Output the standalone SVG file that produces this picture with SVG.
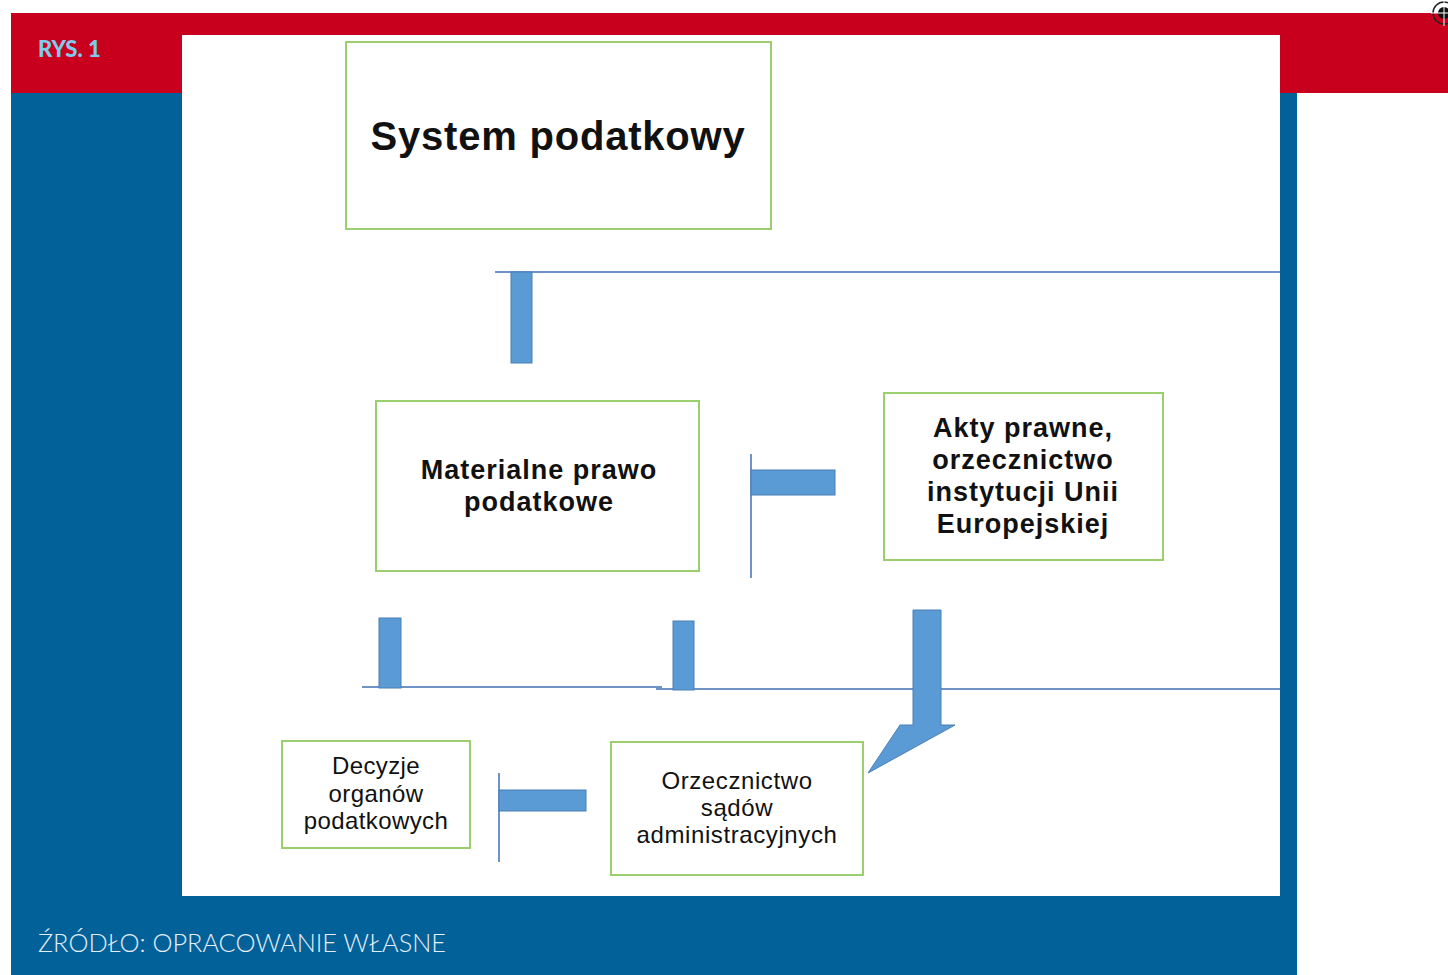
<svg xmlns="http://www.w3.org/2000/svg" width="1448" height="975" viewBox="0 0 1448 975">
<style>
.box{fill:#fff;stroke:#9bcf6e;stroke-width:2}
.bar{fill:#5b9bd5;stroke:#4a7fb5;stroke-width:1}
.ln{stroke:#6f93c6;stroke-width:2;fill:none}
.tb{font-family:"Liberation Sans",Arial,sans-serif;font-weight:bold;fill:#111;text-anchor:middle}
.tr{font-family:"Liberation Sans",Arial,sans-serif;fill:#111;text-anchor:middle}
</style>
<rect x="0" y="0" width="1448" height="975" fill="#fff"/>
<rect x="11" y="13" width="1437" height="80" fill="#c8001e"/>
<rect x="11" y="93" width="1286" height="882" fill="#036199"/>
<rect x="182" y="35" width="1098" height="861" fill="#fff"/>
<g id="regmark">
<circle cx="1444" cy="13" r="11" fill="none" stroke="#222" stroke-width="1.5"/>
<circle cx="1444" cy="13" r="6" fill="#111"/>
<line x1="1431" y1="13" x2="1448" y2="13" stroke="#fff" stroke-width="1"/>
<line x1="1444" y1="0" x2="1444" y2="26" stroke="#fff" stroke-width="1"/>
</g>
<text x="38" y="57" font-family="Lato,'Liberation Sans',sans-serif" font-weight="900" font-size="22" fill="#7ecbeb">RYS. 1</text>
<text x="38" y="952" font-family="Lato,'Liberation Sans',sans-serif" font-weight="300" font-size="25.3" fill="#e6eef5">ŹRÓDŁO: OPRACOWANIE WŁASNE</text>

<g id="connectors">
<line class="ln" x1="495" y1="272" x2="1280" y2="272"/>
<rect class="bar" x="511" y="272" width="21" height="91"/>
<line class="ln" x1="751" y1="454" x2="751" y2="578"/>
<rect class="bar" x="751" y="470" width="84" height="25"/>
<line class="ln" x1="362" y1="687" x2="662" y2="687"/>
<line class="ln" x1="656" y1="689" x2="1280" y2="689" stroke-width="3"/>
<rect class="bar" x="379" y="618" width="22" height="70"/>
<rect class="bar" x="673" y="621" width="21" height="69"/>
<polygon class="bar" points="913,610 941,610 941,725 955,725 868,773 900,725 913,725"/>
<line class="ln" x1="499" y1="773" x2="499" y2="862"/>
<rect class="bar" x="499" y="790" width="87" height="21"/>
</g>

<g id="system">
<rect class="box" x="346" y="42" width="425" height="187"/>
<text class="tb" x="558" y="150" font-size="40" letter-spacing="0.8">System podatkowy</text>
</g>
<g id="materialne">
<rect class="box" x="376" y="401" width="323" height="170"/>
<text class="tb" x="539" y="479" font-size="27" letter-spacing="1">Materialne  prawo</text>
<text class="tb" x="539" y="511" font-size="27" letter-spacing="1">podatkowe</text>
</g>
<g id="akty">
<rect class="box" x="884" y="393" width="279" height="167"/>
<text class="tb" x="1023" y="437" font-size="27" letter-spacing="1">Akty prawne,</text>
<text class="tb" x="1023" y="469" font-size="27" letter-spacing="1">orzecznictwo</text>
<text class="tb" x="1023" y="501" font-size="27" letter-spacing="1">instytucji Unii</text>
<text class="tb" x="1023" y="533" font-size="27" letter-spacing="1">Europejskiej</text>
</g>
<g id="decyzje">
<rect class="box" x="282" y="741" width="188" height="107"/>
<text class="tr" x="376" y="774" font-size="24" letter-spacing="0.4">Decyzje</text>
<text class="tr" x="376" y="802" font-size="24" letter-spacing="0.4">organów</text>
<text class="tr" x="376" y="829" font-size="24" letter-spacing="0.4">podatkowych</text>
</g>
<g id="orzecznictwo">
<rect class="box" x="611" y="742" width="252" height="133"/>
<text class="tr" x="737" y="789" font-size="24" letter-spacing="0.6">Orzecznictwo</text>
<text class="tr" x="737" y="816" font-size="24" letter-spacing="0.6">sądów</text>
<text class="tr" x="737" y="843" font-size="24" letter-spacing="0.6">administracyjnych</text>
</g>
</svg>
